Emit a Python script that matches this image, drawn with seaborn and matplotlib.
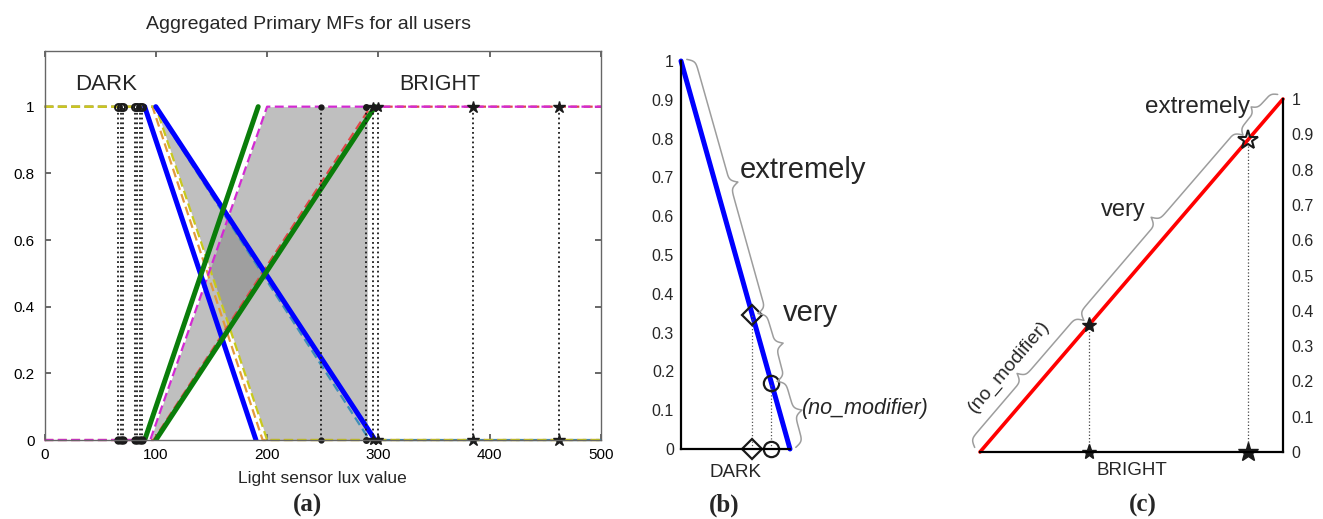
import numpy as np
import matplotlib
matplotlib.use("Agg")
import matplotlib.pyplot as plt
import seaborn as sns

# ---------------- data ----------------
# panel (a): membership-function breakpoints (lux value -> membership)
dark_y = [1, 1, 0, 0]
bright_y = [0, 0, 1, 1]
dark_lower_x = [0, 90, 190, 500]      # thick blue, lower DARK MF
dark_upper_x = [0, 100, 297, 500]     # thick blue, upper DARK MF
bright_upper_x = [0, 90, 192, 500]    # thick green, upper BRIGHT MF
bright_lower_x = [0, 100, 297, 500]   # thick green, lower BRIGHT MF

user_dark_teal_x = [0, 99, 292, 500]
user_dark_orange_x = [0, 97, 196, 500]
user_dark_yellow_x = [0, 100, 200, 500]
user_bright_red_x = [0, 98, 293, 500]
user_bright_magenta_x = [0, 95, 200, 500]

dark_thresholds = [66, 68.5, 70.5, 81, 83, 85.5, 88]
bright_thresholds = [248, 289, 295, 300, 385, 462]
fou_right_edge = 290

a_xticks = [0, 100, 200, 300, 400, 500]
a_xticklabels = ["0", "100", "200", "300", "400", "500"]
a_yticks = [0, 0.2, 0.4, 0.6, 0.8, 1]
a_yticklabels = ["0", "0.2", "0.4", "0.6", "0.8", "1"]

# panel (b): DARK
b_line_x = [0, 1]
b_line_y = [1, 0]
b_very = 0.17
b_extremely = 0.345

# panel (c): BRIGHT
c_line_x = [0, 1]
c_line_y = [0, 1]
c_very = 0.36
c_extremely = 0.885

bc_ticks = [0, 0.1, 0.2, 0.3, 0.4, 0.5, 0.6, 0.7, 0.8, 0.9, 1]
bc_ticklabels = ["0", "0.1", "0.2", "0.3", "0.4", "0.5", "0.6", "0.7", "0.8", "0.9", "1"]

# ---------------- style ----------------
sns.set_theme(style="white")
plt.rcParams["font.family"] = ["Liberation Sans", "DejaVu Sans"]

W, H = 1323, 519
fig = plt.figure(figsize=(W / 100, H / 100), dpi=100)


def px_axes(left, right, top, bottom):
    return fig.add_axes([left / W, 1 - bottom / H, (right - left) / W, (bottom - top) / H])


# ================= panel (a) =================
ax = px_axes(44.5, 601, 51, 440)
ax.set_xlim(0, 500)
ax.set_ylim(0, 1.167)

xg = np.linspace(0, 500, 2001)
yel = np.interp(xg, user_dark_yellow_x, dark_y)
mag = np.interp(xg, user_bright_magenta_x, bright_y)
dup = np.interp(xg, dark_upper_x, dark_y)
blo = np.interp(xg, bright_lower_x, bright_y)
lim = xg <= fou_right_edge
gcol = "#808080"
ax.fill_between(xg, yel, dup, where=(dup > yel) & lim, color=gcol, alpha=0.5, lw=0)
ax.fill_between(xg, blo, mag, where=(mag > blo) & lim, color=gcol, alpha=0.5, lw=0)
ax.fill_between(xg, dup, blo, where=(blo > dup) & lim, color=gcol, alpha=0.5, lw=0)

dash = (0, (4, 2))
for xs, ys, col in [
    (user_dark_teal_x, dark_y, "#3f8fb8"),
    (user_dark_orange_x, dark_y, "#e39a3c"),
    (user_bright_red_x, bright_y, "#e04848"),
    (user_dark_yellow_x, dark_y, "#c9c91c"),
    (user_bright_magenta_x, bright_y, "#d22ad2"),
]:
    sns.lineplot(x=xs, y=ys, ax=ax, color=col, lw=1.6, linestyle=dash,
                 estimator=None, sort=False, clip_on=False)

for xs, ys, col in [
    (dark_lower_x, dark_y, "#0000ff"),
    (dark_upper_x, dark_y, "#0000ff"),
    (bright_upper_x, bright_y, "#0a7d0a"),
    (bright_lower_x, bright_y, "#0a7d0a"),
]:
    sns.lineplot(x=xs[1:3], y=ys[1:3], ax=ax, color=col, lw=3.6,
                 estimator=None, sort=False)

for i, xv in enumerate(dark_thresholds):
    ax.plot([xv, xv], [0, 1], color="k", ls=":", lw=1.3)
    ax.plot([xv], [1], marker="o", ms=5, mfc="none", mec="k", mew=1.4)
    ax.plot([xv], [0], marker="o", ms=5, mfc="k", mec="k", clip_on=False)
bright_markers = [".", "o", "*", "*", "*", "*"]
bright_ms = [7, 4, 7, 7, 9, 9]
for xv, mk, ms in zip(bright_thresholds, bright_markers, bright_ms):
    ax.plot([xv, xv], [0, 1], color="k", ls=":", lw=1.3)
    ax.plot([xv, xv], [0, 1], ls="none", marker=mk, ms=ms, color="k", clip_on=False)

ax.set_xticks(a_xticks)
ax.set_xticklabels(a_xticklabels)
ax.set_yticks(a_yticks)
ax.set_yticklabels(a_yticklabels)
ax.tick_params(direction="in", length=4, top=True, right=True, bottom=True, left=True,
               labelsize=11, colors="#555555", labelcolor="black", pad=6)
ax.tick_params(axis="y", pad=7)
for s in ax.spines.values():
    s.set_color("#666666")
    s.set_linewidth(1.0)
ax.set_title("Aggregated Primary MFs for all users", fontsize=14, pad=16, x=0.475)
ax.set_xlabel("Light sensor lux value", fontsize=12.5, labelpad=6)
ax.text(55, 1.065, "DARK", fontsize=16, ha="center", va="center")
ax.text(355, 1.065, "BRIGHT", fontsize=15.5, ha="center", va="center")


# ================= brace helper =================
def brace(axx, p0, p1, gap, h, beta=0.5, color="#9d9d9d", lw=1.1):
    T = axx.transData
    d0 = T.transform(p0)
    d1 = T.transform(p1)
    v = d1 - d0
    L = np.hypot(*v)
    u = v / L
    n = np.array([-u[1], u[0]])
    s = np.linspace(0, L / 2, 200)
    f = 1 / (1 + np.exp(-beta * (s - s[0]))) + 1 / (1 + np.exp(-beta * (s - s[-1]))) - 0.5
    ff = np.concatenate([f, f[-2::-1]])
    ss = np.concatenate([s, L - s[-2::-1]])
    pts = d0 + np.outer(ss, u) + np.outer(gap + h * ff, n)
    dat = T.inverted().transform(pts)
    axx.plot(dat[:, 0], dat[:, 1], color=color, lw=lw, clip_on=False)
    tip = d0 + u * L / 2 + n * (gap + h)
    return T.inverted().transform(tip), u, n


# ================= panel (b) =================
bx = px_axes(681, 790, 61, 449)
bx.set_xlim(0, 1)
bx.set_ylim(0, 1)
sns.lineplot(x=b_line_x, y=b_line_y, ax=bx, color="#0000ff", lw=3.6,
             estimator=None, sort=False, clip_on=False)
bxv = np.interp(b_very, b_line_y[::-1], b_line_x[::-1])
bxe = np.interp(b_extremely, b_line_y[::-1], b_line_x[::-1])
for xv, m, mk, ms in [(bxe, b_extremely, "D", 10), (bxv, b_very, "o", 11)]:
    bx.plot([xv, xv], [0, m], color="#555555", ls=":", lw=0.9, clip_on=False)
    bx.plot([xv, xv], [0, m], ls="none", marker=mk, ms=ms, mfc="none", mec="k",
            mew=1.6, clip_on=False)
bx.set_xticks([])
bx.set_yticks(bc_ticks)
bx.set_yticklabels(bc_ticklabels)
bx.tick_params(axis="y", length=0, labelsize=11.5, pad=5)
for side in ["top", "right"]:
    bx.spines[side].set_visible(False)
for side in ["left", "bottom"]:
    bx.spines[side].set_color("black")
    bx.spines[side].set_linewidth(1.6)
bx.set_xlabel("DARK", fontsize=13.5, labelpad=11)

tip, u, n = brace(bx, (0, 1), (bxe, b_extremely), 6, 16)
bx.annotate("extremely", xy=tip, xytext=(1.5, 9), textcoords="offset points",
            fontsize=21, ha="left", va="center", annotation_clip=False)
tip, u, n = brace(bx, (bxe, b_extremely), (bxv, b_very), 6, 16)
bx.annotate("very", xy=tip, xytext=(0, 22), textcoords="offset points",
            fontsize=21, ha="left", va="center", annotation_clip=False)
tip, u, n = brace(bx, (bxv, b_very), (1, 0), 6, 16)
bx.annotate("(no_modifier)", xy=tip, xytext=(0, 1), textcoords="offset points",
            fontsize=15.5, style="italic", ha="left", va="center", annotation_clip=False)

# ================= panel (c) =================
cx = px_axes(980, 1283, 99, 452)
cx.set_xlim(0, 1)
cx.set_ylim(0, 1)
sns.lineplot(x=c_line_x, y=c_line_y, ax=cx, color="#ff0000", lw=2.6,
             estimator=None, sort=False, clip_on=False)
cxv = np.interp(c_very, c_line_y, c_line_x)
cxe = np.interp(c_extremely, c_line_y, c_line_x)
cx.plot([cxv, cxv], [0, c_very], color="#444444", ls=":", lw=0.9, clip_on=False)
cx.plot([cxe, cxe], [0, c_extremely], color="#444444", ls=":", lw=0.9, clip_on=False)
cx.plot([cxv, cxv], [0, c_very], ls="none", marker="*", ms=11, color="k", clip_on=False)
cx.plot([cxe], [0], ls="none", marker="*", ms=15, color="k", clip_on=False)
cx.plot([cxe], [c_extremely], ls="none", marker="*", ms=15, mfc="none", mec="k",
        mew=1.5, clip_on=False)
cx.set_xticks([])
cx.yaxis.tick_right()
cx.set_yticks(bc_ticks)
cx.set_yticklabels(bc_ticklabels)
cx.tick_params(axis="y", length=0, labelsize=11.5, pad=6)
for side in ["top", "left"]:
    cx.spines[side].set_visible(False)
for side in ["right", "bottom"]:
    cx.spines[side].set_color("black")
    cx.spines[side].set_linewidth(1.6)
cx.set_xlabel("BRIGHT", fontsize=13.5, labelpad=7)

tip, u, n = brace(cx, (0, 0), (cxv, c_very), 7, 16)
ang = np.degrees(np.arctan2(u[1], u[0]))
cx.annotate("(no_modifier)", xy=tip, xytext=(n[0] * 8, n[1] * 8), textcoords="offset points",
            fontsize=14, rotation=ang, rotation_mode="anchor", ha="center", va="center",
            annotation_clip=False)
tip, u, n = brace(cx, (cxv, c_very), (cxe, c_extremely), 7, 16)
cx.annotate("very", xy=tip, xytext=(-4, 5), textcoords="offset points",
            fontsize=17, ha="right", va="center", annotation_clip=False)
tip, u, n = brace(cx, (cxe, c_extremely), (1, 1), 7, 12)
cx.annotate("extremely", xy=tip, xytext=(-1, 0), textcoords="offset points",
            fontsize=17.5, ha="right", va="center", annotation_clip=False)

# ================= panel labels =================
for xpx, lab in [(308, "(a)"), (724, "(b)"), (1143, "(c)")]:
    fig.text(xpx / W, 1 - 505 / H, lab, fontsize=18, fontweight="bold",
             family=["Liberation Serif", "DejaVu Serif"], ha="center", va="center")

fig.savefig("out.png", dpi=100)
